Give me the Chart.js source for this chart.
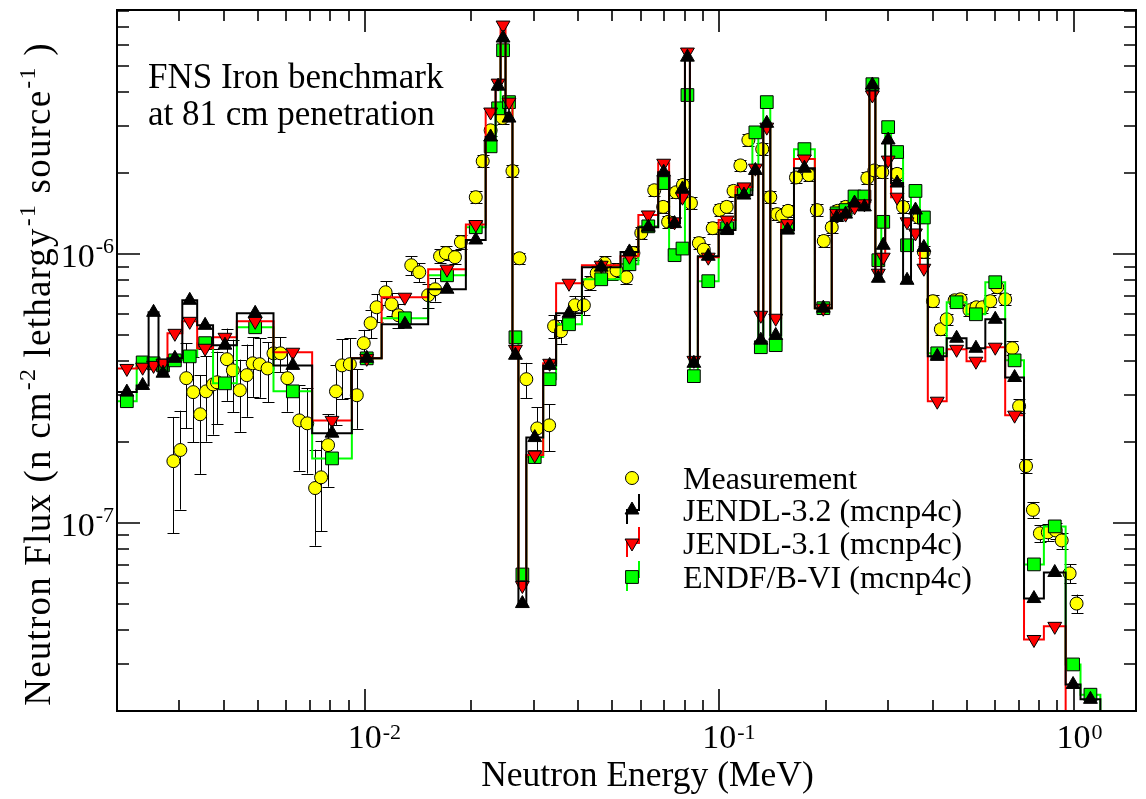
<!DOCTYPE html>
<html><head><meta charset="utf-8">
<script src="https://cdn.jsdelivr.net/npm/chart.js@4.4.0/dist/chart.umd.min.js"></script>
<style>html,body{margin:0;padding:0;background:#fff;} #wrap{width:1146px;height:799px;position:relative;}</style>
</head><body><div id="wrap"><canvas id="c"></canvas></div>
<script>
// ---------------- data ----------------
const binEdges = [
  0.002, 0.002273, 0.002456, 0.002619, 0.002776, 0.003057, 0.003367, 0.003733, 0.004357, 0.005528,
  0.007106, 0.009197, 0.01116, 0.01510, 0.01929, 0.02194, 0.02340, 0.02417, 0.02496, 0.02611,
  0.02714, 0.02857, 0.03188, 0.03467, 0.04100, 0.05269, 0.05916, 0.06730, 0.07224, 0.07754,
  0.08007, 0.08269, 0.08707, 0.09968, 0.1112, 0.1241, 0.1290, 0.1332, 0.1394, 0.1496,
  0.1626, 0.1862, 0.2078, 0.2216, 0.2333, 0.2488, 0.2654, 0.2759, 0.2867, 0.2941,
  0.3056, 0.3303, 0.3478, 0.3685, 0.3879, 0.4385, 0.4988, 0.5636, 0.6412, 0.7247,
  0.8245, 0.9497, 1.046, 1.190
];
const jendl32 = [
  3.07e-7, 3.25e-7, 6.08e-7, 3.61e-7, 4.10e-7, 6.74e-7, 5.44e-7, 4.59e-7, 6.03e-7, 3.86e-7,
  2.16e-7, 4.10e-7, 5.49e-7, 7.41e-7, 1.13e-6, 2.73e-6, 4.22e-6, 6.37e-6, 3.21e-6, 4.21e-7,
  5.02e-8, 2.08e-7, 3.86e-7, 6.03e-7, 8.95e-7, 1.02e-6, 1.26e-6, 2.02e-6, 1.30e-6, 1.75e-6,
  5.41e-6, 3.93e-7, 9.83e-7, 1.23e-6, 1.66e-6, 2.05e-6, 4.79e-7, 3.07e-6, 4.99e-7, 1.23e-6,
  2.09e-6, 6.30e-7, 1.37e-6, 1.41e-6, 1.55e-6, 1.50e-6, 4.26e-6, 8.14e-7, 1.08e-6, 2.66e-6,
  1.84e-6, 8.00e-7, 1.46e-6, 1.06e-6, 4.17e-7, 4.87e-7, 4.47e-7, 5.73e-7, 3.48e-7, 5.24e-8,
  6.55e-8, 2.51e-8, 2.21e-8
];
const jendl31 = [
  3.76e-7, 3.80e-7, 3.86e-7, 3.93e-7, 5.08e-7, 5.63e-7, 4.47e-7, 4.91e-7, 5.63e-7, 4.32e-7,
  2.41e-7, 4.10e-7, 6.92e-7, 8.80e-7, 1.29e-6, 3.38e-6, 4.33e-6, 7.12e-6, 3.68e-6, 4.43e-7,
  5.86e-8, 1.79e-7, 3.93e-7, 7.80e-7, 9.10e-7, 9.83e-7, 1.40e-6, 2.18e-6, 1.32e-6, 1.63e-6,
  5.65e-6, 4.03e-7, 9.75e-7, 1.34e-6, 1.78e-6, 2.09e-6, 5.93e-7, 2.97e-6, 5.78e-7, 1.30e-6,
  2.26e-6, 6.30e-7, 1.42e-6, 1.41e-6, 1.50e-6, 1.54e-6, 3.91e-6, 8.50e-7, 9.75e-7, 2.24e-6,
  1.63e-6, 1.32e-6, 1.20e-6, 8.87e-7, 2.84e-7, 4.43e-7, 4.00e-7, 4.51e-7, 2.52e-7, 3.69e-8,
  4.13e-8, 1.5e-8, 1.5e-8
];
const endfb6 = [
  2.84e-7, 3.96e-7, 3.93e-7, 3.86e-7, 4.03e-7, 4.17e-7, 4.67e-7, 3.31e-7, 5.35e-7, 3.09e-7,
  1.74e-7, 4.10e-7, 5.78e-7, 8.35e-7, 1.26e-6, 2.52e-6, 3.49e-6, 5.74e-6, 3.68e-6, 4.91e-7,
  6.44e-8, 1.76e-7, 3.43e-7, 5.49e-7, 8.07e-7, 9.18e-7, 1.27e-6, 1.84e-6, 9.92e-7, 1.05e-6,
  3.91e-6, 3.52e-7, 7.94e-7, 1.25e-6, 1.73e-6, 2.84e-6, 4.51e-7, 3.68e-6, 4.59e-7, 1.26e-6,
  2.46e-6, 6.30e-7, 1.42e-6, 1.46e-6, 1.64e-6, 1.64e-6, 4.29e-6, 9.50e-7, 1.32e-6, 2.97e-6,
  2.40e-6, 1.08e-6, 1.72e-6, 1.37e-6, 4.28e-7, 6.63e-7, 5.98e-7, 7.87e-7, 4.03e-7, 7.02e-8,
  9.72e-8, 2.98e-8, 2.30e-8
];
const tailValue = 1e-9;

const measEnergy = [
  0.002885, 0.003018, 0.003137, 0.003281, 0.003433, 0.003568, 0.003733, 0.003830, 0.004085, 0.004246,
  0.004442, 0.004647, 0.004830, 0.005052, 0.005320, 0.005528, 0.005783, 0.006050, 0.006537, 0.006883,
  0.007245, 0.007531, 0.007879, 0.008296, 0.008624, 0.009078, 0.009497, 0.009936, 0.01039, 0.01080,
  0.01145, 0.01190, 0.01245, 0.01353, 0.01425, 0.01510, 0.01579, 0.01631, 0.01695, 0.01797,
  0.01868, 0.02057, 0.02152, 0.02266, 0.02448, 0.02611, 0.02732, 0.02857, 0.03067, 0.03313,
  0.03422, 0.03579, 0.03917, 0.04152, 0.04315, 0.04513, 0.04752, 0.04972, 0.05134, 0.05475,
  0.05728, 0.06030, 0.06559, 0.06950, 0.07177, 0.07557, 0.07906, 0.08324, 0.08764, 0.09049,
  0.09590, 0.1003, 0.1050, 0.1098, 0.1148, 0.1209, 0.1323, 0.1394, 0.1457, 0.1505,
  0.1564, 0.1647, 0.1791, 0.1886, 0.1973, 0.2078, 0.2159, 0.2274, 0.2619, 0.2740,
  0.2885, 0.3178, 0.3303, 0.3661, 0.3781, 0.4009, 0.4221, 0.4385, 0.4617, 0.4798,
  0.5085, 0.5319, 0.5529, 0.5821, 0.6090, 0.6412, 0.6710, 0.7019, 0.7340, 0.7679,
  0.8034, 0.8459, 0.8906, 0.9256, 0.9745, 1.0195
];
const measFlux = [
  1.70e-7, 1.87e-7, 3.46e-7, 3.07e-7, 2.54e-7, 3.09e-7, 3.28e-7, 3.34e-7, 4.07e-7, 3.70e-7,
  3.12e-7, 3.55e-7, 3.93e-7, 3.90e-7, 3.76e-7, 4.28e-7, 4.28e-7, 3.46e-7, 2.41e-7, 2.35e-7,
  1.35e-7, 1.48e-7, 1.95e-7, 3.09e-7, 3.86e-7, 3.90e-7, 2.99e-7, 4.67e-7, 5.54e-7, 6.35e-7,
  7.22e-7, 6.52e-7, 5.93e-7, 9.10e-7, 8.57e-7, 7.04e-7, 7.41e-7, 9.83e-7, 1.01e-6, 9.75e-7,
  1.11e-6, 1.63e-6, 2.22e-6, 2.89e-6, 3.21e-6, 2.04e-6, 9.66e-7, 3.43e-7, 2.25e-7, 2.31e-7,
  5.40e-7, 5.17e-7, 6.46e-7, 6.46e-7, 7.80e-7, 8.50e-7, 9.26e-7, 8.50e-7, 8.72e-7, 8.21e-7,
  1.01e-6, 1.20e-6, 1.73e-6, 1.50e-6, 1.32e-6, 1.70e-6, 1.81e-6, 1.55e-6, 1.10e-6, 1.04e-6,
  1.25e-6, 1.46e-6, 1.50e-6, 1.72e-6, 2.14e-6, 2.66e-6, 2.46e-6, 1.63e-6, 1.41e-6, 1.39e-6,
  1.45e-6, 1.93e-6, 1.97e-6, 1.46e-6, 1.12e-6, 1.26e-6, 1.45e-6, 1.50e-6, 1.92e-6, 2.05e-6,
  2.02e-6, 1.99e-6, 1.50e-6, 1.37e-6, 1.02e-6, 6.69e-7, 5.26e-7, 5.73e-7, 6.74e-7, 6.80e-7,
  6.19e-7, 6.35e-7, 6.35e-7, 6.69e-7, 7.54e-7, 6.80e-7, 4.47e-7, 2.72e-7, 1.63e-7, 1.12e-7,
  9.16e-8, 9.24e-8, 9.39e-8, 8.62e-8, 6.50e-8, 5.02e-8
];
const measRelErr = [
  0.46, 0.40, 0.35, 0.35, 0.40, 0.35, 0.35, 0.30, 0.30, 0.30,
  0.30, 0.30, 0.25, 0.25, 0.25, 0.15, 0.15, 0.25, 0.35, 0.35,
  0.39, 0.37, 0.30, 0.25, 0.25, 0.25, 0.25, 0.12, 0.12, 0.12,
  0.10, 0.10, 0.10, 0.08, 0.08, 0.10, 0.10, 0.06, 0.06, 0.06,
  0.06, 0.05, 0.05, 0.05, 0.05, 0.05, 0.05, 0.15, 0.20, 0.20,
  0.10, 0.10, 0.08, 0.08, 0.06, 0.06, 0.06, 0.06, 0.06, 0.06,
  0.06, 0.05, 0.05, 0.05, 0.05, 0.05, 0.05, 0.05, 0.05, 0.05,
  0.05, 0.05, 0.05, 0.05, 0.05, 0.05, 0.05, 0.05, 0.05, 0.05,
  0.05, 0.05, 0.05, 0.05, 0.05, 0.05, 0.05, 0.05, 0.05, 0.05,
  0.05, 0.05, 0.05, 0.05, 0.05, 0.05, 0.05, 0.05, 0.05, 0.05,
  0.05, 0.05, 0.05, 0.05, 0.05, 0.05, 0.06, 0.06, 0.06, 0.07,
  0.07, 0.07, 0.07, 0.07, 0.08, 0.08
];

const xRange = [0.002, 1.5];
const yRange = [2e-8, 8.1e-6];
const xTickExponents = [-2, -1, 0];
const yTickExponents = [-7, -6];
const xTitle = 'Neutron Energy (MeV)';
const yTitleParts = [['Neutron Flux (n cm', '-2'], [' lethargy', '-1'], [' source', '-1'], [' )', '']];
const noteLines = ['FNS Iron benchmark', 'at 81 cm penetration'];
const legendLabels = ['Measurement', 'JENDL-3.2 (mcnp4c)', 'JENDL-3.1 (mcnp4c)', 'ENDF/B-VI (mcnp4c)'];

// ---------------- helpers ----------------
const SERIF = '"Liberation Serif", "Times New Roman", serif';
function stepPoints(vals) {
  const pts = vals.map((v, i) => ({x: binEdges[i], y: v}));
  pts.push({x: binEdges[vals.length], y: vals[vals.length - 1]});
  pts.push({x: binEdges[vals.length], y: tailValue});
  pts.push({x: xRange[1], y: tailValue});
  return pts;
}
function centerPoints(vals) {
  return vals.map((v, i) => ({x: Math.sqrt(binEdges[i] * binEdges[i + 1]), y: v}));
}
const measPoints = measEnergy.map((e, i) => ({x: e, y: measFlux[i]}));

function drawMarker(ctx, kind, x, y) {
  ctx.save();
  ctx.lineWidth = 1; ctx.strokeStyle = '#000';
  ctx.beginPath();
  if (kind === 'circle') {
    ctx.fillStyle = '#ffff00'; ctx.arc(x, y, 6.5, 0, Math.PI * 2);
  } else if (kind === 'up') {
    const r = 8; ctx.fillStyle = '#000';
    ctx.moveTo(x, y - r); ctx.lineTo(x + r * 0.866, y + r / 2); ctx.lineTo(x - r * 0.866, y + r / 2); ctx.closePath();
  } else if (kind === 'down') {
    const r = 8; ctx.fillStyle = '#ff0000';
    ctx.moveTo(x, y + r); ctx.lineTo(x + r * 0.866, y - r / 2); ctx.lineTo(x - r * 0.866, y - r / 2); ctx.closePath();
  } else {
    const h = 6.4; ctx.fillStyle = '#00ff00'; ctx.rect(x - h, y - h, 2 * h, 2 * h);
  }
  ctx.fill(); ctx.stroke();
  ctx.restore();
}

const errorBars = {
  id: 'errorBars',
  beforeDatasetsDraw(chart) {
    const {ctx, chartArea: a, scales: {x, y}} = chart;
    ctx.save();
    ctx.beginPath(); ctx.rect(a.left, a.top, a.right - a.left, a.bottom - a.top); ctx.clip();
    ctx.strokeStyle = '#000'; ctx.lineWidth = 1;
    ctx.beginPath();
    measPoints.forEach((p, i) => {
      const px = Math.round(x.getPixelForValue(p.x)) + 0.5;
      const err = p.y * measRelErr[i];
      const top = y.getPixelForValue(p.y + err);
      const bot = y.getPixelForValue(Math.max(p.y - err, 1e-12));
      ctx.moveTo(px, top); ctx.lineTo(px, bot);
      ctx.moveTo(px - 6, Math.round(top) + 0.5); ctx.lineTo(px + 6, Math.round(top) + 0.5);
      ctx.moveTo(px - 6, Math.round(bot) + 0.5); ctx.lineTo(px + 6, Math.round(bot) + 0.5);
    });
    ctx.stroke();
    ctx.restore();
  }
};

function supText(ctx, base, exp, x, y, baseSize, supSize, raise, align) {
  ctx.font = baseSize + 'px ' + SERIF;
  const wb = ctx.measureText(base).width;
  ctx.font = supSize + 'px ' + SERIF;
  const ws = ctx.measureText(exp).width;
  let left = x;
  if (align === 'center') left = x - wb / 2;
  else if (align === 'right') left = x - wb - ws - 1;
  ctx.textAlign = 'left'; ctx.textBaseline = 'alphabetic';
  ctx.font = baseSize + 'px ' + SERIF;
  ctx.fillText(base, left, y);
  ctx.font = supSize + 'px ' + SERIF;
  ctx.fillText(exp, left + wb + 1, y - raise);
}

const frameAndText = {
  id: 'frameAndText',
  afterDraw(chart) {
    const {ctx, chartArea: a, scales: {x, y}} = chart;
    ctx.save();
    ctx.fillStyle = '#000'; ctx.strokeStyle = '#000';
    // frame
    ctx.lineWidth = 2;
    ctx.strokeRect(a.left, a.top, a.right - a.left, a.bottom - a.top);
    // ticks
    ctx.lineWidth = 1.6;
    ctx.beginPath();
    for (let e = -3; e <= 0; e++) {
      for (let m = 1; m <= 9; m++) {
        const v = m * Math.pow(10, e);
        if (v <= xRange[0] * 1.001 || v >= xRange[1] * 0.999) continue;
        const px = Math.round(x.getPixelForValue(v));
        const len = m === 1 ? 22 : 11;
        ctx.moveTo(px, a.bottom); ctx.lineTo(px, a.bottom - len);
        ctx.moveTo(px, a.top); ctx.lineTo(px, a.top + len);
      }
    }
    for (let e = -8; e <= -6; e++) {
      for (let m = 1; m <= 9; m++) {
        const v = m * Math.pow(10, e);
        if (v <= yRange[0] * 1.001 || v >= yRange[1] * 0.999) continue;
        const py = Math.round(y.getPixelForValue(v));
        const len = m === 1 ? 23 : 12;
        ctx.moveTo(a.left, py); ctx.lineTo(a.left + len, py);
        ctx.moveTo(a.right, py); ctx.lineTo(a.right - len, py);
      }
    }
    ctx.stroke();
    // tick labels
    xTickExponents.forEach(ex => {
      const px = x.getPixelForValue(Math.pow(10, ex));
      supText(ctx, '10', String(ex), px, 748, 34, 22, 9, 'center');
    });
    yTickExponents.forEach(ex => {
      const py = y.getPixelForValue(Math.pow(10, ex));
      supText(ctx, '10', String(ex), 114, py + 13, 34, 22, 14, 'right');
    });
    // axis titles
    ctx.font = '35.5px ' + SERIF; ctx.textAlign = 'center'; ctx.textBaseline = 'alphabetic';
    ctx.fillText(xTitle, (a.left + a.right) / 2 + 21, 786);
    ctx.save();
    ctx.translate(50, 374); ctx.rotate(-Math.PI / 2);
    ctx.letterSpacing = '1.2px';
    let total = 0;
    yTitleParts.forEach(([t, s]) => {
      ctx.font = '37px ' + SERIF; total += ctx.measureText(t).width;
      ctx.font = '24px ' + SERIF; total += s ? ctx.measureText(s).width + 1 : 0;
    });
    let cx = -total / 2;
    ctx.textAlign = 'left';
    yTitleParts.forEach(([t, s]) => {
      ctx.font = '37px ' + SERIF; ctx.fillText(t, cx, 0); cx += ctx.measureText(t).width;
      if (s) { ctx.font = '24px ' + SERIF; ctx.fillText(s, cx + 1, -15); cx += ctx.measureText(s).width + 1; }
    });
    ctx.restore();
    // annotation
    ctx.font = '35px ' + SERIF; ctx.textAlign = 'left';
    ctx.fillText(noteLines[0], 148, 88);
    ctx.fillText(noteLines[1], 148, 125);
    // legend
    const lx = 632, rows = [478, 510, 543, 577];
    const kinds = ['circle', 'up', 'down', 'square'];
    const lineColors = [null, '#000', '#ff0000', '#00ff00'];
    rows.forEach((ry, i) => {
      if (lineColors[i]) {
        ctx.strokeStyle = lineColors[i]; ctx.lineWidth = 2;
        ctx.beginPath();
        ctx.moveTo(lx - 5, ry + 14); ctx.lineTo(lx - 5, ry); ctx.lineTo(lx + 7, ry); ctx.lineTo(lx + 7, ry - 16);
        ctx.stroke();
      }
      drawMarker(ctx, kinds[i], lx, ry);
      ctx.fillStyle = '#000'; ctx.font = '32px ' + SERIF; ctx.textAlign = 'left';
      ctx.fillText(legendLabels[i], 683, ry + 11);
    });
    ctx.restore();
  }
};

const lineDs = (label, vals, color, order) => ({
  label, data: stepPoints(vals), showLine: true, stepped: true, borderColor: color, borderWidth: 2,
  pointRadius: 0, fill: false, order
});

new Chart(document.getElementById('c'), {
  type: 'scatter',
  data: {
    datasets: [
      {label: legendLabels[1] + ' symbols', data: centerPoints(jendl32), pointStyle: 'triangle', pointRadius: 8,
       backgroundColor: '#000', borderColor: '#000', borderWidth: 1, order: 0},
      lineDs(legendLabels[1], jendl32, '#000', 1),
      {label: legendLabels[2] + ' symbols', data: centerPoints(jendl31), pointStyle: 'triangle', pointRotation: 180, pointRadius: 8,
       backgroundColor: '#ff0000', borderColor: '#000', borderWidth: 1, order: 2},
      lineDs(legendLabels[2], jendl31, '#ff0000', 3),
      {label: legendLabels[3] + ' symbols', data: centerPoints(endfb6), pointStyle: 'rect', pointRadius: 9,
       backgroundColor: '#00ff00', borderColor: '#000', borderWidth: 1, order: 4},
      lineDs(legendLabels[3], endfb6, '#00ff00', 5),
      {label: legendLabels[0], data: measPoints, pointStyle: 'circle', pointRadius: 6.5,
       backgroundColor: '#ffff00', borderColor: '#000', borderWidth: 1, order: 6}
    ]
  },
  options: {
    responsive: true, maintainAspectRatio: false, animation: false,
    layout: {padding: {left: 117, top: 10, right: 2, bottom: 88}},
    plugins: {legend: {display: false}, tooltip: {enabled: false}},
    scales: {
      x: {type: 'logarithmic', min: xRange[0], max: xRange[1], display: false},
      y: {type: 'logarithmic', min: yRange[0], max: yRange[1], display: false}
    }
  },
  plugins: [errorBars, frameAndText]
});
</script>
</body></html>
